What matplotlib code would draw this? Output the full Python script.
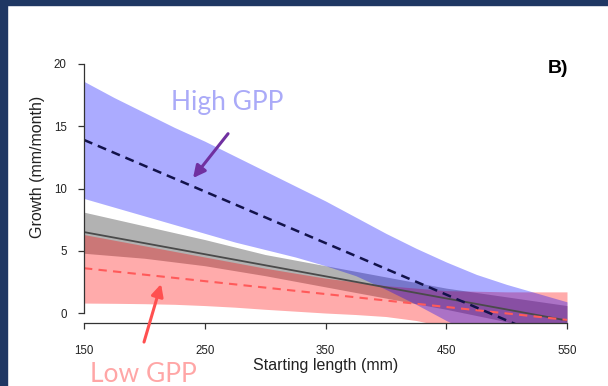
import numpy as np
import matplotlib.pyplot as plt
from matplotlib.patches import Rectangle

# ---
# Values (growth vs starting length)

x_grid = [150, 175, 200, 225, 250, 275, 300, 325, 350, 375, 400, 425, 450, 475, 500, 525, 550]

# High GPP band + fitted (dashed) line
high_upper = [18.6, 17.3, 16.1, 14.9, 13.8, 12.6, 11.4, 10.2, 9.0, 7.7, 6.4, 5.2, 4.1, 3.1, 2.3, 1.6, 0.9]
high_lower = [9.2, 8.5, 7.8, 7.1, 6.4, 5.7, 5.1, 4.5, 3.8, 3.0, 1.9, 0.7, -0.6, -1.8, -3.0, -4.0, -5.0]
high_x = [150, 550]
high_fit = [13.9, -2.66]

# Overall (grey) band + solid line
mid_upper = [8.1, 7.55, 7.0, 6.45, 5.9, 5.3, 4.7, 4.25, 3.8, 3.35, 2.9, 2.45, 2.0, 1.65, 1.3, 0.95, 0.6]
mid_lower = [4.8, 4.6, 4.4, 4.1, 3.8, 3.4, 3.0, 2.55, 2.1, 1.65, 1.2, 0.75, 0.3, -0.2, -0.7, -1.25, -1.8]
mid_x = [150, 550]
mid_fit = [6.5, -0.6]

# Low GPP band + fitted (dashed) line
low_upper = [6.3, 5.85, 5.4, 4.95, 4.5, 4.05, 3.6, 3.2, 2.8, 2.5, 2.2, 2.0, 1.8, 1.75, 1.7, 1.7, 1.7]
low_lower = [0.8, 0.78, 0.75, 0.7, 0.6, 0.47, 0.3, 0.15, 0.0, -0.12, -0.28, -0.6, -1.1, -2.0, -3.0, -3.5, -4.0]
low_x = [150, 550]
low_fit = [3.6, -0.55]

x_ticks = [150, 250, 350, 450, 550]
y_ticks = [0, 5, 10, 15, 20]

# ---

plt.rcParams["font.family"] = ["Liberation Sans", "DejaVu Sans"]

fig = plt.figure(figsize=(6.08, 3.86), dpi=100, facecolor="white")
ax = fig.add_axes([84 / 608, 63 / 386, 483 / 608, 269 / 386])

ax.fill_between(x_grid, mid_lower, mid_upper, color="black", alpha=0.3, lw=0)
ax.fill_between(x_grid, low_lower, low_upper, color="red", alpha=0.33, lw=0)
ax.plot(mid_x, mid_fit, color="#4a4a4a", lw=1.3)
ax.plot(low_x, low_fit, color="#ff5a5a", lw=1.5, ls=(0, (4, 3)))
ax.fill_between(x_grid, high_lower, high_upper, color="blue", alpha=0.33, lw=0)
ax.plot(high_x, high_fit, color="#12124a", lw=1.8, ls=(0, (3.6, 2.4)))

ax.set_xlim(150, 550)
ax.set_ylim(-0.8, 20.8)

for s in ["top", "right"]:
    ax.spines[s].set_visible(False)
ax.spines["left"].set_bounds(0, 20)
ax.spines["bottom"].set_bounds(150, 550)
for s in ["left", "bottom"]:
    ax.spines[s].set_color("#333333")
    ax.spines[s].set_linewidth(0.9)

ax.set_xticks(x_ticks)
ax.set_yticks(y_ticks)
ax.tick_params(axis="both", direction="out", length=4.5, width=0.9,
               color="#333333", labelsize=8.3, labelcolor="#222222")
ax.tick_params(axis="x", pad=11)
ax.tick_params(axis="y", pad=8)

ax.set_xlabel("Starting length (mm)", fontsize=11.5, color="#222222")
ax.xaxis.set_label_coords(0.5, -0.13)
ax.set_ylabel("Growth (mm/month)", fontsize=11.5, color="#222222")
ax.yaxis.set_label_coords(-0.081, 0.582)

ax.text(534, 19.28, "B)", fontsize=14, fontweight="bold", ha="left", va="baseline")

# slide annotations
ax.text(268.4, 16.3, "High GPP", fontsize=19, family="Lato", color="#aaaaf8",
        ha="center", va="baseline", clip_on=False)
ax.text(199.3, -5.54, "Low GPP", fontsize=19, family="Lato", color="#ffa6a6",
        ha="center", va="baseline", clip_on=False)
ax.annotate("", xy=(240.3, 10.84), xytext=(269.3, 14.4), annotation_clip=False,
            arrowprops=dict(arrowstyle="-|>", color="#7030a0", lw=2.2, mutation_scale=18,
                            shrinkA=0, shrinkB=0))
ax.annotate("", xy=(213.8, 2.33), xytext=(199.7, -2.33), annotation_clip=False,
            arrowprops=dict(arrowstyle="-|>", color="#ff5050", lw=2.2, mutation_scale=18,
                            shrinkA=0, shrinkB=0))

# slide frame (dark border on left and top)
fig.patches.append(Rectangle((0, 0), 7 / 608, 1, transform=fig.transFigure,
                             color="#1f3763", zorder=10))
fig.patches.append(Rectangle((0, 1 - 5 / 386), 1, 5 / 386, transform=fig.transFigure,
                             color="#1f3763", zorder=10))

fig.savefig("out.png", dpi=100, facecolor="white")
